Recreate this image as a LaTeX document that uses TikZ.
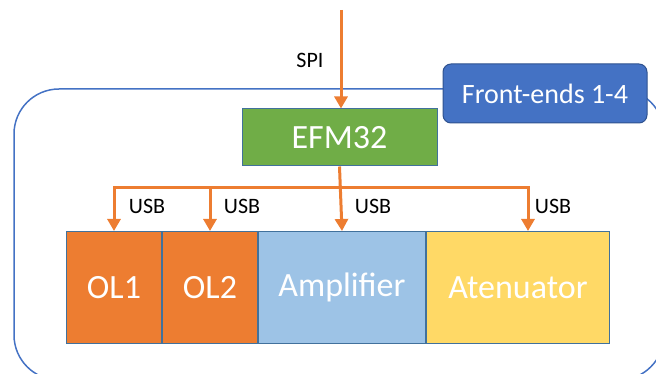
\documentclass[tikz,border=0pt]{standalone}
\usepackage{fontspec}
\setmainfont{Carlito}
\usepackage{tikz}
\usetikzlibrary{positioning,arrows.meta}

\definecolor{olorange}{HTML}{ED7D31}
\definecolor{ampblue}{HTML}{9DC3E6}
\definecolor{atenyellow}{HTML}{FFD966}
\definecolor{efmgreen}{HTML}{70AD47}
\definecolor{feblue}{HTML}{4472C4}
\definecolor{feedge}{HTML}{2F528F}
\definecolor{edgeblue}{HTML}{41719C}

\tikzset{
	blk/.style={draw=edgeblue, line width=1pt, minimum height=112pt, inner sep=0pt,
		text=white, font=\fontsize{34}{40}\selectfont},
	bus/.style={draw=olorange, line width=3pt, -{Triangle[length=12pt,width=13pt]}},
	lbl/.style={font=\fontsize{22}{26}\selectfont, inner sep=0pt}
}

\begin{document}
\begin{tikzpicture}[x=1pt, y=-1pt]
	\useasboundingbox (0,0) rectangle (656,374);
	
	% outer frame, runs off the page on the right and bottom
	\begin{scope}
		\clip (0,0) rectangle (656,374);
		\draw[feblue, line width=1.5pt, rounded corners=45pt] (14,89) rectangle (664,380);
	\end{scope}
	
	\node[draw=feedge, fill=feblue, line width=1pt, rounded corners=8pt, minimum width=204pt,
		minimum height=59pt, text=white, font=\fontsize{28}{32}\selectfont] (fe) at (545,93.5) {Front-ends 1-4};
	
	\node[blk, fill=efmgreen, minimum width=195pt, minimum height=57pt] (efm) at (339.5,137.5) {EFM32};
	
	\node[blk, fill=olorange, minimum width=95pt, anchor=north west] (ol1) at (66,231) {OL1};
	\node[blk, fill=olorange, minimum width=95pt, right=0pt of ol1] (ol2) {OL2};
	\node[blk, fill=ampblue, minimum width=167pt, right=0pt of ol2] (amp) {Amplifier};
	\node[blk, fill=atenyellow, minimum width=183pt, right=0pt of amp] (aten) {Atenuator};
	
	\coordinate (spi) at (341,10);
	\coordinate (busy) at (0,188);
	\coordinate (at) at ([xshift=10pt]aten.north);
	
	\draw[bus] (spi) -- (spi |- efm.north);
	\node[lbl] (spil) at (310,60) {SPI};
	
	\draw[bus] (efm.south) -- (amp.north);
	\draw[bus] (efm.south |- busy) -| (ol1.north);
	\draw[bus] (efm.south |- busy) -| (ol2.north);
	\draw[bus] (efm.south |- busy) -| (at);
	
	\node[lbl] (u1) at (147,206) {USB};
	\node[lbl] (u2) at (242,206) {USB};
	\node[lbl] (u3) at (373,206) {USB};
	\node[lbl] (u4) at (553,206) {USB};
\end{tikzpicture}
\end{document}
